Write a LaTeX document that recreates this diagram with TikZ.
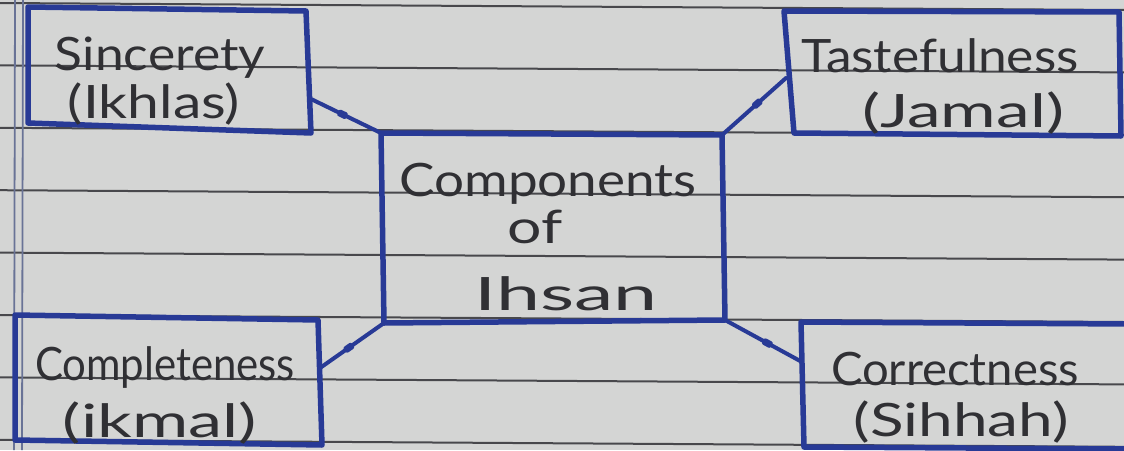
\documentclass[tikz,border=0pt]{standalone}
\usepackage{fontspec}
\setmainfont{Lato}
\usepackage{graphicx}
\definecolor{paper}{RGB}{212,213,212}
\definecolor{rulecol}{RGB}{72,72,76}
\definecolor{margincol}{RGB}{105,115,150}
\definecolor{ink}{RGB}{40,58,150}
\definecolor{pencil}{RGB}{48,48,52}
\newcommand{\hw}[2]{\resizebox{#1pt}{\height}{\fontsize{46}{50}\selectfont #2}}
\begin{document}
\begin{tikzpicture}[x=1pt,y=-1pt,
  box/.style={draw=ink, line width=5.5pt, line join=round, line cap=round},
  link/.style={draw=ink, line width=4pt, line cap=round},
  blob/.style={fill=ink, minimum width=10pt, minimum height=7pt, inner sep=0pt, sloped, rounded corners=2pt},
  hand/.style={text=pencil, inner sep=0pt, anchor=base}]
\useasboundingbox (0,0) rectangle (1124,450);
\fill[paper] (0,0) rectangle (1124,450);
% ruled lines
\foreach \k in {0,...,7} \draw[rulecol, line width=2pt] (0,{3+62.4*\k}) -- (1124,{10+62.4*\k});
% margin lines
\draw[margincol, line width=1.8pt] (15,0) -- (14,450);
\draw[margincol, line width=1.8pt] (23,0) -- (22,450);

% box corners
\coordinate (s1) at (28,7);   \coordinate (s2) at (306,11);  \coordinate (s3) at (311,133); \coordinate (s4) at (28,123);
\coordinate (c1) at (381,133); \coordinate (c2) at (722,135); \coordinate (c3) at (725,320); \coordinate (c4) at (384,323);
\coordinate (t1) at (784,11); \coordinate (t2) at (1119,12); \coordinate (t3) at (1121,136); \coordinate (t4) at (794,133);
\coordinate (l1) at (15,315); \coordinate (l2) at (318,320); \coordinate (l3) at (322,445); \coordinate (l4) at (15,440);
\coordinate (r0) at (1130,324); \coordinate (r1) at (801,322); \coordinate (r2) at (804,447); \coordinate (r3) at (1130,449);
% connector ends on the outer boxes
\coordinate (sEnd) at (311,99);
\coordinate (tEnd) at (786,78);
\coordinate (lEnd) at (320,368);
\coordinate (rEnd) at (802,362);

% boxes
\draw[box] (s1) -- (s2) -- (s3) -- (s4) -- cycle;
\draw[box] (c1) -- (c2) -- (c3) -- (c4) -- cycle;
\draw[box] (t1) -- (t2) -- (t3) -- (t4) -- cycle;
\draw[box] (l1) -- (l2) -- (l3) -- (l4) -- cycle;
\draw[box] (r0) -- (r1) -- (r2) -- (r3);

% connectors
\draw[link] (sEnd) -- (c1) node[blob, pos=0.45] (m1) {};
\draw[link] (tEnd) -- (c2) node[blob, pos=0.45] (m2) {};
\draw[link] (lEnd) -- (c4) node[blob, pos=0.45] (m3) {};
\draw[link] (c3) -- (rEnd) node[blob, pos=0.55] (m4) {};

% texts
\node[hand] (sinc) at (160,70) {\hw{210}{Sincerety}};
\node[hand] (ikh)  at (154,118) {\hw{172}{(Ikhlas)}};
\node[hand] (tast) at (940,72) {\hw{277}{Tastefulness}};
\node[hand] (jam)  at (963,127) {\hw{202}{(Jamal)}};
\node[hand] (comp) at (548,196) {\hw{297}{Components}};
\node[hand] (of)   at (535,243) {\hw{55}{of}};
\node[hand] (ihs)  at (566,310) {\hw{183}{Ihsan}};
\node[hand] (cmpl) at (165,380) {\hw{260}{Completeness}};
\node[hand] (ikm)  at (160,437) {\hw{194}{(ikmal)}};
\node[hand] (corr) at (955,385) {\hw{248}{Correctness}};
\node[hand] (sih)  at (961,436) {\hw{215}{(Sihhah)}};
\end{tikzpicture}
\end{document}
